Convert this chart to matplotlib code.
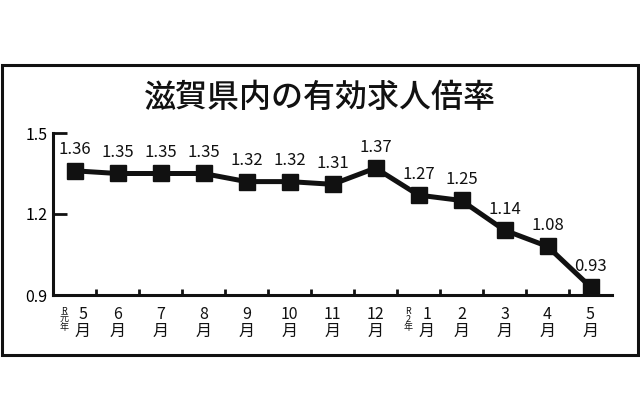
import matplotlib.pyplot as plt
from matplotlib.patches import Rectangle

plt.rcParams['font.family'] = ['Noto Sans CJK JP', 'DejaVu Sans']

months = ['5', '6', '7', '8', '9', '10', '11', '12', '1', '2', '3', '4', '5']
ratio = [1.36, 1.35, 1.35, 1.35, 1.32, 1.32, 1.31, 1.37, 1.27, 1.25, 1.14, 1.08, 0.93]
era_marks = {0: 'R\n元\n年', 8: 'R\n2\n年'}
title = '滋賀県内の有効求人倍率'

fig = plt.figure(figsize=(6.4, 4.2), dpi=100)
fig.patches.append(Rectangle((1.5 / 640, 1 - 354.5 / 420), 636 / 640, 290 / 420,
                             transform=fig.transFigure, fill=False,
                             edgecolor='#111111', linewidth=2.2))
fig.text(0.5, 1 - 98 / 420, title, ha='center', va='center',
         fontsize=23, fontweight='medium', color='#111111')

ax = fig.add_axes([53 / 640, 1 - 295 / 420, 559 / 640, 162 / 420])
x = list(range(len(months)))
ax.plot(x, ratio, color='#111111', lw=3.6, marker='s', ms=11.5, clip_on=False)

for i, v in enumerate(ratio):
    ax.annotate(f'{v:.2f}', (i, v), xytext=(0, 15), textcoords='offset points',
                ha='center', va='center', fontsize=12, color='#111111')

ax.set_xlim(-0.5, len(months) - 0.5)
ax.set_ylim(0.9, 1.5)
ax.set_yticks([0.9, 1.2, 1.5])
ax.set_yticklabels(['0.9', '1.2', '1.5'])
ax.set_xticks([i + 0.5 for i in range(len(months) - 1)])
ax.set_xticklabels([])
ax.tick_params(axis='x', direction='in', length=4, width=2, color='#111111')
ax.tick_params(axis='y', direction='in', length=10, width=2, color='#111111',
               labelsize=11.5, pad=4)

for s in ['top', 'right']:
    ax.spines[s].set_visible(False)
for s in ['left', 'bottom']:
    ax.spines[s].set_linewidth(2.2)
    ax.spines[s].set_color('#111111')

for i, m in enumerate(months):
    dx = 6 if i in era_marks else 0
    ax.annotate(m + '\n月', (i, 0), xycoords=('data', 'axes fraction'),
                xytext=(dx, -8), textcoords='offset points', ha='center', va='top',
                fontsize=11.5, linespacing=1.0, color='#111111')
    if i in era_marks:
        ax.annotate(era_marks[i], (i, 0), xycoords=('data', 'axes fraction'),
                    xytext=(-7.5, -8.5), textcoords='offset points', ha='center', va='top',
                    fontsize=6.5, linespacing=0.9, color='#111111')

fig.savefig('out.png', dpi=100)
